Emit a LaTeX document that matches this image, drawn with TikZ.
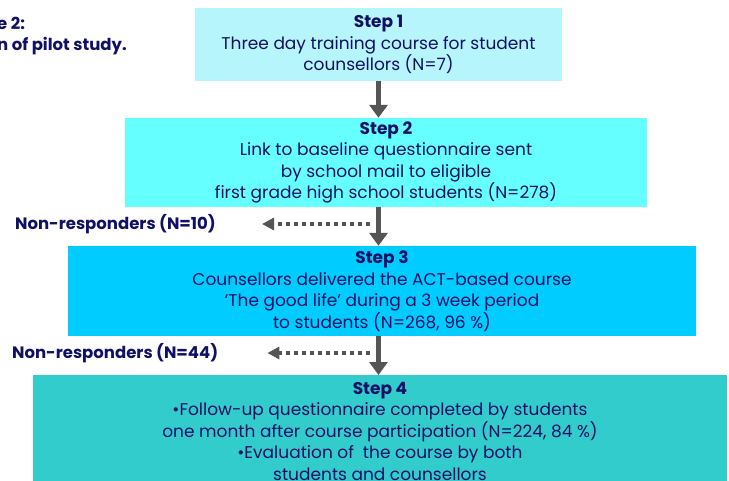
\documentclass[tikz,border=0pt]{standalone}
\usepackage{fontspec}
\setmainfont{Poppins}
\usepackage{tikz}
\usetikzlibrary{arrows.meta,positioning,calc}

\definecolor{navytext}{RGB}{16,16,100}
\definecolor{stepone}{RGB}{183,245,252}
\definecolor{steptwo}{RGB}{102,255,255}
\definecolor{stepthree}{RGB}{0,204,255}
\definecolor{stepfour}{RGB}{51,204,204}
\definecolor{arrgray}{RGB}{85,85,85}

\begin{document}
\begin{tikzpicture}[x=1pt, y=-1pt,
  stepbox/.style={draw=none, align=center, inner sep=0pt, text=navytext,
                  font=\fontsize{17}{21.5}\selectfont},
  arr/.style={-{Triangle[width=18pt,length=13pt]}, line width=5pt, draw=arrgray},
  dotarr/.style={-{Triangle[width=12pt,length=12pt]}, line width=4pt, draw=arrgray,
                 dash pattern=on 4pt off 4pt},
  lbl/.style={draw=none, inner sep=0pt, text=navytext,
              font=\bfseries\fontsize{16.5}{18}\selectfont}
]
  \useasboundingbox (0,0) rectangle (729,480);
  \clip (0,0) rectangle (729,480);

  \node[lbl, anchor=north west, align=left, font=\bfseries\fontsize{16.5}{20.5}\selectfont]
    (title) at (-3,17) {e 2:\\n of pilot study.};

  \node[stepbox, fill=stepone, minimum width=367pt, minimum height=73pt] (step1) at (378.5,44.5)
    {\textbf{Step 1}\\Three day training course for student\\counsellors (N=7)};
  \node[stepbox, fill=steptwo, minimum width=522pt, minimum height=89pt] (step2) at (386,162.5)
    {\textbf{Step 2}\\Link to baseline questionnaire sent\\by school mail to eligible\\first grade high school students (N=278)};
  \node[stepbox, fill=stepthree, minimum width=628pt, minimum height=90pt] (step3) at (382,291)
    {\textbf{Step 3}\\Counsellors delivered the ACT-based course\\‘The good life’ during a 3 week period\\to students (N=268, 96 \%)};
  \node[stepbox, fill=stepfour, minimum width=694pt, minimum height=120pt, anchor=north,
        text depth=0pt] (step4) at (380,375)
    {\\[-17.5pt]\textbf{Step 4}\\•Follow-up questionnaire completed by students\\one month after course participation (N=224, 84 \%)\\•Evaluation of~ the course by both\\students and counsellors};

  % main flow
  \draw[arr] (step1.south) -- (step1.south |- step2.north);
  \draw[arr] (step1.south |- step2.south) -- (step1.south |- step3.north);
  \draw[arr] (step1.south |- step3.south) -- (step1.south |- step4.north);

  % drop-outs
  \node[lbl, anchor=west] (nonresp1) at (15,224) {Non-responders (N=10)};
  \node[lbl, anchor=west] (nonresp2) at (12,353) {Non-responders (N=44)};
  \coordinate (drop1) at (370,224);
  \coordinate (drop2) at (370,353);
  \draw[dotarr] (drop1) -- ([xshift=46pt]nonresp1.east);
  \draw[dotarr] (drop2) -- ([xshift=49pt]nonresp2.east);
\end{tikzpicture}
\end{document}
